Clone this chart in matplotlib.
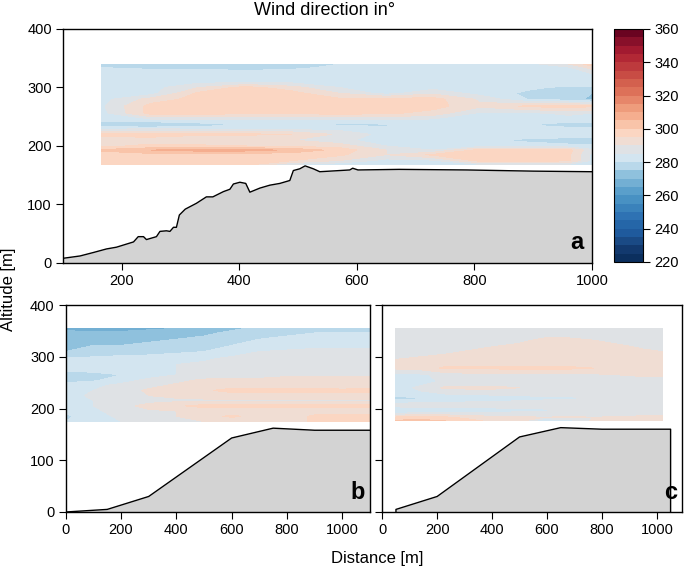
import numpy as np
import matplotlib
matplotlib.use("Agg")
import matplotlib.pyplot as plt
from matplotlib.colors import ListedColormap, BoundaryNorm

plt.rcParams['font.family'] = ['Liberation Sans Narrow', 'Liberation Sans', 'DejaVu Sans']

# ---- colour scale (wind direction, 5 degree bins) ----
levels = np.arange(220, 365, 5)
bin_colors = ['#0b2f5e', '#12396e', '#1a4a85', '#1f5a9d', '#2566a8', '#2e72b3',
              '#3a82bb', '#4891c3', '#5a9fcb', '#73afd3', '#8fc1dd', '#b9d8ea',
              '#d3e5f0', '#dfe2e5', '#f0ddd3', '#fbd6c2', '#f9c4a9', '#f5ae8f',
              '#ee9c7c', '#e6866a', '#dd7159', '#d3604e', '#c84c44', '#bd3a3d',
              '#b22835', '#a21a30', '#88102a', '#6a0421']
cbar_ticks = [220, 240, 260, 280, 300, 320, 340, 360]

# ---- panel a : terrain profile ----
terr_a_x = [100, 129, 152, 174, 191, 220, 228, 237, 242, 259, 265, 276, 282, 288, 293,
            298, 308, 327, 344, 355, 373, 384, 390, 401, 411, 418, 435, 452, 469, 486,
            492, 503, 512, 526, 537, 588, 593, 602, 672, 787, 900, 1000]
terr_a_y = [8, 12, 18, 24, 27, 36, 45, 45, 40, 45, 54, 55, 54, 61, 61,
            82, 92, 102, 113, 113, 122, 126, 135, 138, 136, 121, 128, 133, 136, 141,
            158, 161, 166, 161, 156, 159, 162, 159, 160, 159, 157, 156]

# panel a : wind direction field (rows listed top to bottom)
field_a_x = [165, 250, 330, 410, 490, 570, 650, 730, 810, 890, 960, 1000]
field_a_y = [340, 334, 322, 310, 300, 290, 280, 268, 256, 245, 236, 228, 220, 210,
             200, 193, 185, 175, 168]
field_a = [
    [279, 278, 278, 278, 278, 280, 283, 283, 283, 283, 290, 298],
    [280, 279, 279, 278, 279, 281, 283, 283, 283, 283, 284, 292],
    [283, 283, 283, 283, 283, 283, 283, 283, 283, 283, 283, 284],
    [283, 283, 283, 283, 283, 283, 283, 283, 283, 283, 283, 283],
    [283, 283, 290, 297, 292, 285, 283, 283, 283, 281, 279, 279],
    [283, 283, 296, 298, 297, 290, 283, 289, 283, 279, 276, 275],
    [283, 292, 297, 298, 297, 296, 297, 297, 289, 280, 277, 274],
    [284, 297, 298, 297, 296, 297, 299, 297, 291, 296, 297, 296],
    [283, 297, 297, 296, 296, 297, 296, 293, 284, 284, 286, 285],
    [283, 284, 285, 285, 284, 284, 285, 284, 283, 283, 283, 283],
    [276, 274, 277, 280, 281, 279, 279, 283, 283, 280, 277, 277],
    [286, 287, 286, 285, 285, 284, 283, 283, 283, 283, 283, 283],
    [297, 297, 296, 296, 295, 289, 283, 283, 283, 283, 283, 283],
    [292, 293, 291, 290, 290, 286, 283, 283, 281, 279, 278, 278],
    [294, 296, 296, 295, 294, 293, 285, 283, 283, 282, 281, 281],
    [301, 305, 307, 307, 304, 298, 290, 285, 297, 298, 297, 286],
    [297, 298, 298, 297, 297, 296, 290, 296, 297, 297, 296, 284],
    [297, 297, 297, 297, 295, 290, 283, 284, 297, 297, 296, 284],
    [297, 297, 297, 297, 284, 281, 283, 283, 284, 284, 284, 284],
]

# ---- panel b ----
terr_b_x = [0, 150, 300, 600, 750, 900, 1100]
terr_b_y = [0, 5, 30, 143, 162, 158, 158]
field_b_x = [0, 100, 200, 300, 400, 500, 600, 700, 800, 900, 1000, 1100]
field_b_y = [355, 346, 334, 322, 310, 297, 285, 275, 265, 255, 245, 235, 225, 215,
             205, 195, 185, 175]
field_b = [
    [268, 267, 268, 269, 270, 271, 274, 276, 278, 279, 279, 279],
    [272, 271, 271, 272, 273, 274, 276, 278, 279, 280, 280, 280],
    [273, 273, 274, 274, 275, 276, 278, 280, 281, 281, 281, 281],
    [274, 275, 275, 276, 277, 278, 280, 281, 282, 284, 284, 284],
    [275, 276, 277, 278, 279, 280, 282, 285, 286, 286, 286, 286],
    [281, 281, 282, 282, 283, 284, 286, 287, 287, 287, 287, 287],
    [282, 282, 283, 283, 285, 286, 287, 287, 287, 287, 287, 287],
    [281, 282, 283, 284, 285, 286, 287, 287, 288, 288, 288, 288],
    [277, 278, 280, 283, 285, 286, 287, 288, 289, 289, 289, 289],
    [278, 279, 283, 286, 288, 291, 291, 291, 292, 292, 292, 292],
    [282, 284, 286, 288, 291, 292, 292, 292, 292, 292, 292, 292],
    [283, 285, 287, 291, 293, 294, 297, 297, 297, 297, 296, 297],
    [283, 286, 288, 290, 291, 292, 292, 293, 293, 293, 293, 293],
    [282, 285, 287, 288, 289, 289, 289, 289, 289, 289, 289, 289],
    [282, 285, 288, 292, 294, 297, 297, 297, 297, 297, 297, 297],
    [281, 284, 287, 289, 290, 291, 291, 292, 292, 292, 292, 292],
    [279, 283, 286, 288, 290, 293, 296, 293, 292, 296, 297, 297],
    [280, 283, 285, 287, 289, 290, 291, 291, 292, 296, 297, 297],
]

# ---- panel c ----
terr_c_x = [50, 50, 200, 500, 650, 800, 1050, 1050]
terr_c_y = [0, 5, 30, 145, 163, 160, 160, 0]
field_c_x = [50, 140, 230, 320, 410, 500, 590, 680, 770, 860, 950, 1020]
field_c_y = [355, 345, 332, 320, 305, 290, 278, 265, 252, 240, 228, 220, 213, 205,
             197, 190, 183, 176]
field_c = [
    [287, 287, 287, 287, 287, 287, 287, 287, 287, 287, 287, 287],
    [287, 287, 287, 287, 287, 287, 288, 288, 288, 287, 287, 287],
    [287, 287, 287, 287, 288, 289, 291, 291, 290, 288, 287, 287],
    [287, 287, 288, 289, 290, 291, 292, 292, 292, 291, 289, 288],
    [288, 289, 290, 291, 292, 292, 292, 292, 292, 292, 292, 291],
    [291, 292, 292, 292, 292, 292, 292, 292, 292, 292, 292, 292],
    [291, 292, 296, 296, 296, 296, 296, 296, 295, 292, 292, 292],
    [283, 284, 287, 288, 288, 289, 289, 289, 289, 290, 291, 291],
    [282, 283, 286, 287, 287, 287, 287, 287, 287, 287, 287, 287],
    [283, 286, 291, 291, 291, 290, 288, 287, 287, 287, 287, 287],
    [284, 284, 285, 286, 286, 286, 287, 287, 287, 287, 287, 287],
    [278, 279, 280, 281, 282, 283, 284, 284, 285, 285, 286, 287],
    [284, 284, 284, 285, 285, 286, 286, 287, 287, 287, 287, 287],
    [287, 288, 288, 288, 288, 288, 288, 288, 288, 288, 288, 288],
    [279, 279, 280, 281, 282, 283, 284, 286, 287, 287, 287, 287],
    [286, 287, 287, 287, 287, 287, 287, 287, 287, 287, 287, 287],
    [296, 297, 296, 293, 291, 291, 290, 291, 290, 291, 292, 292],
    [301, 302, 300, 297, 293, 292, 278, 281, 292, 293, 294, 294],
]

cmap = ListedColormap(bin_colors)
norm = BoundaryNorm(levels, cmap.N)

fig = plt.figure(figsize=(6.85, 5.68), dpi=100)
ax_a = fig.add_axes([0.092, 0.537, 0.772, 0.412])
cax = fig.add_axes([0.896, 0.539, 0.042, 0.410])
ax_b = fig.add_axes([0.096, 0.0986, 0.444, 0.3644])
ax_c = fig.add_axes([0.558, 0.0986, 0.437, 0.3644])


def draw_panel(ax, fx, fy, fz, tx, ty, label):
    z = np.flipud(np.array(fz, dtype=float))
    y = np.array(fy)[::-1]
    cs = ax.contourf(fx, y, z, levels=levels, cmap=cmap, norm=norm)
    ax.fill_between(tx, ty, 0, color='#d3d3d3', zorder=2, linewidth=0)
    ax.plot(tx, ty, color='black', lw=1.0, zorder=3)
    ax.set_ylim(0, 400)
    ax.set_yticks([0, 100, 200, 300, 400])
    ax.tick_params(direction='out', length=5, width=0.8, labelsize=10.5, pad=3)
    for sp in ax.spines.values():
        sp.set_linewidth(1.0)
    ax.text(0.985, 0.04, label, transform=ax.transAxes, ha='right', va='bottom',
            fontsize=17, fontweight='bold', zorder=5)
    return cs


cs = draw_panel(ax_a, field_a_x, field_a_y, field_a, terr_a_x, terr_a_y, 'a')
ax_a.set_xlim(100, 1000)
ax_a.set_xticks([200, 400, 600, 800, 1000])

draw_panel(ax_b, field_b_x, field_b_y, field_b, terr_b_x, terr_b_y, 'b')
ax_b.set_xlim(0, 1100)
ax_b.set_xticks([0, 200, 400, 600, 800, 1000])

draw_panel(ax_c, field_c_x, field_c_y, field_c, terr_c_x, terr_c_y, 'c')
ax_c.set_xlim(0, 1090)
ax_c.set_xticks([0, 200, 400, 600, 800, 1000])
ax_c.set_yticklabels([])

cb = fig.colorbar(cs, cax=cax, ticks=cbar_ticks)
cb.minorticks_off()
cb.ax.tick_params(which='both', direction='out', length=5, width=0.8, labelsize=10.5)
cb.ax.tick_params(which='minor', length=0)
cb.outline.set_linewidth(0.8)

fig.text(0.474, 0.982, 'Wind direction in°', ha='center', va='center', fontsize=13)
fig.text(0.012, 0.49, 'Altitude [m]', rotation=90, ha='center', va='center', fontsize=12)
fig.text(0.55, 0.017, 'Distance [m]', ha='center', va='center', fontsize=12)

fig.savefig('out.png', dpi=100)
